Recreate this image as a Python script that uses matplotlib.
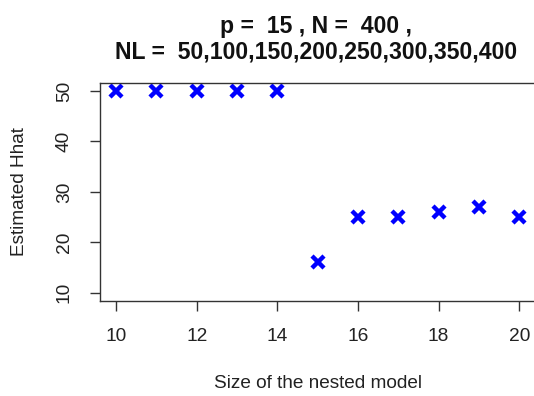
import matplotlib
matplotlib.use("Agg")
import matplotlib.pyplot as plt

plt.rcParams['font.family'] = ['Liberation Sans', 'DejaVu Sans']

model_size = [10, 11, 12, 13, 14, 15, 16, 17, 18, 19, 20]
hhat = [50, 50, 50, 50, 50, 16, 25, 25, 26, 27, 25]
x_ticks = [10, 12, 14, 16, 18, 20]
y_ticks = [10, 20, 30, 40, 50]

fig = plt.figure(figsize=(5.34, 3.96), dpi=100)
ax = fig.add_axes([100/534, 95.3/396, 435.4/534, 217.7/396])

ax.plot(model_size, hhat, linestyle='none', marker='x', color='#0000ff',
        markersize=8, markeredgewidth=3.2)

ax.set_xlim(9.6, 20.4)
ax.set_ylim(8.4, 51.6)
ax.set_xticks(x_ticks)
ax.set_xticklabels([str(v) for v in x_ticks])
ax.set_yticks(y_ticks)
ax.set_yticklabels([str(v) for v in y_ticks], rotation=90, va='center')
ax.tick_params(axis='both', length=7.5, width=1, color='#333333', labelsize=13.8, labelcolor='#222222')
ax.tick_params(axis='x', pad=12)
ax.tick_params(axis='y', pad=12)
for s in ax.spines.values():
    s.set_linewidth(1)
    s.set_color('#333333')

fig.text(316/534, 1 - 27/396, 'p =  15 , N =  400 ,', ha='center', va='center',
         fontsize=16.6, fontweight='bold', color='#111111')
fig.text(316/534, 1 - 52/396, 'NL =  50,100,150,200,250,300,350,400', ha='center', va='center',
         fontsize=16.6, fontweight='bold', color='#111111')
fig.text(318/534, 1 - 383/396, 'Size of the nested model', ha='center', va='center',
         fontsize=13.7, color='#222222')
fig.text(20/534, 1 - 192/396, 'Estimated Hhat', ha='center', va='center', rotation=90,
         fontsize=13.7, color='#222222')

fig.savefig('out.png', dpi=100)
